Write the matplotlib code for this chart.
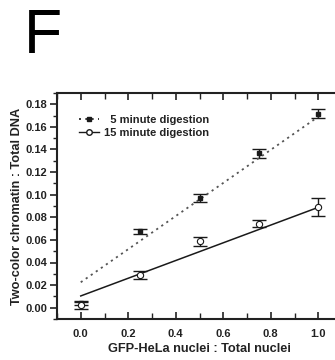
import matplotlib
matplotlib.use("Agg")
import matplotlib.pyplot as plt
from matplotlib.ticker import MultipleLocator, FormatStrFormatter

plt.rcParams['font.family'] = ['Liberation Sans', 'DejaVu Sans']

# data
ratio = [0.0, 0.25, 0.5, 0.75, 1.0]
min5 = [0.004, 0.0675, 0.097, 0.1365, 0.1717]
min5_err = [0.002, 0.002, 0.0035, 0.0037, 0.004]
min15 = [0.002, 0.029, 0.0586, 0.0743, 0.0888]
min15_err = [0.0034, 0.0034, 0.004, 0.003, 0.0079]
fit_x = [0.0, 1.0]
fit5_y = [0.0225, 0.169]
fit15_y = [0.0104, 0.0888]
labels = ["\u20075 minute digestion", "15 minute digestion"]
xlabel = "GFP-HeLa nuclei : Total nuclei"
ylabel = "Two-color chromatin : Total DNA"

W, H = 335, 360
fig = plt.figure(figsize=(W / 100, H / 100), dpi=100)
L, R, B, T = 57, 342, 319, 93
ax = fig.add_axes([L / W, 1 - B / H, (R - L) / W, (B - T) / H])

col = '#1a1a1a'
ax.errorbar(ratio, min5, yerr=min5_err, fmt='none', ecolor=col, elinewidth=1.0,
            capsize=4.8, capthick=1.0)
ax.errorbar(ratio, min15, yerr=min15_err, fmt='none', ecolor=col, elinewidth=1.0,
            capsize=4.8, capthick=1.0)
ax.plot(fit_x, fit5_y, linestyle=(0, (1.2, 2.2)), color='#555555', lw=1.3)
ax.plot(fit_x, fit15_y, linestyle='-', color=col, lw=1.1)
ax.plot(ratio, min5, 's', color=col, ms=3.5, ls='none')
ax.plot(ratio, min15, 'o', mfc='white', mec=col, mew=0.8, ms=4.5, ls='none')

# legend handles
h1, = ax.plot([], [], marker='s', ms=3, color=col, ls=(0, (1.2, 2.6)), lw=1.2)
h2, = ax.plot([], [], marker='o', ms=4, mfc='white', mec=col, color=col, ls='-', lw=1.0)
leg = ax.legend([h1, h2], labels, loc='upper left', bbox_to_anchor=(0.062, 0.923),
                frameon=False, handlelength=1.8, handletextpad=0.45, labelspacing=0.3,
                borderaxespad=0.0, prop={'weight': 'bold', 'size': 8})
for t in leg.get_texts():
    t.set_color('#222222')

ax.set_xlim(-0.1, 1.1)
ax.set_ylim(-0.01, 0.19)
ax.xaxis.set_major_locator(MultipleLocator(0.2))
ax.xaxis.set_minor_locator(MultipleLocator(0.1))
ax.yaxis.set_major_locator(MultipleLocator(0.02))
ax.yaxis.set_minor_locator(MultipleLocator(0.01))
ax.xaxis.set_major_formatter(FormatStrFormatter('%.1f'))
ax.yaxis.set_major_formatter(FormatStrFormatter('%.2f'))
ax.tick_params(axis='x', which='both', direction='in', top=True, bottom=True,
               labelsize=8, colors='#222222', pad=7)
ax.tick_params(axis='x', which='major', length=5, width=1.2)
ax.tick_params(axis='x', which='minor', length=4, width=1.0)
ax.tick_params(axis='y', which='both', direction='out', right=False,
               labelsize=8, colors='#222222', pad=2)
ax.tick_params(axis='y', which='major', length=5, width=1.2)
ax.tick_params(axis='y', which='minor', length=3, width=1.0)
for lab in ax.get_xticklabels() + ax.get_yticklabels():
    lab.set_fontweight('bold')
for s in ax.spines.values():
    s.set_linewidth(1.5)
    s.set_color('#222222')

ax.set_xlabel(xlabel, fontsize=9.2, fontweight='bold', color='#222222', labelpad=3)
ax.set_ylabel(ylabel, fontsize=9.2, fontweight='bold', color='#222222', labelpad=2)

fig.text(24 / W, 1 - 53 / H, "F", fontsize=45, color='black', ha='left', va='baseline')

fig.savefig("out.png", dpi=100)
